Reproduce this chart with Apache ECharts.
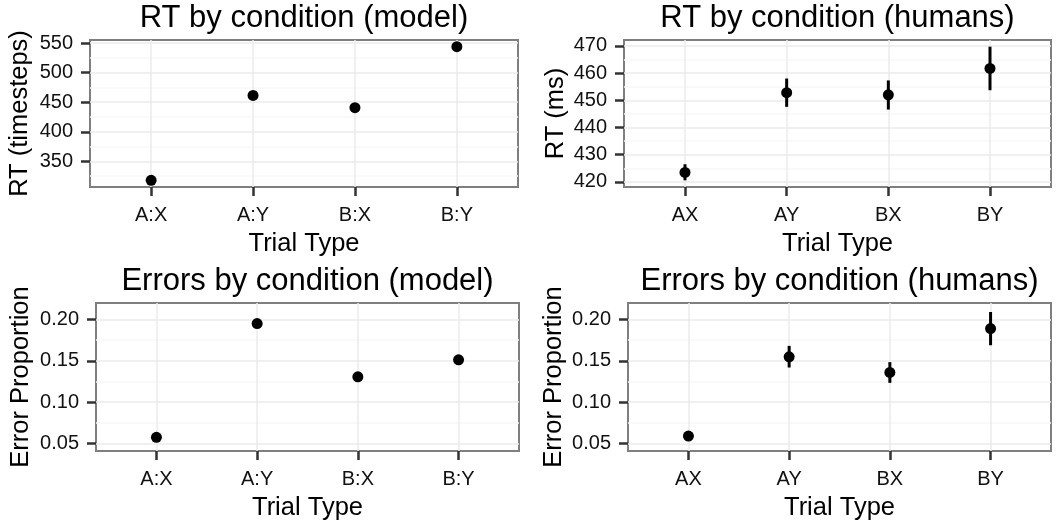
<!DOCTYPE html>
<html>
<head>
<meta charset="utf-8">
<script src="https://cdn.jsdelivr.net/npm/echarts@6/dist/echarts.min.js"></script>
<style>
  html, body { margin: 0; padding: 0; background: #fff; }
  #chart { width: 1060px; height: 523px; }
</style>
</head>
<body>
<div id="chart"></div>
<script>
// categories
var modelCats = ['A:X', 'A:Y', 'B:X', 'B:Y'];
var humanCats = ['AX', 'AY', 'BX', 'BY'];
var catPos = [1, 2, 3, 4];

// RT values
var modelRT = [318, 461.5, 440.7, 543.8];
var humanRT = [423.5, 452.8, 452.0, 461.7];
var humanRTLow = [420.6, 447.6, 446.6, 453.7];
var humanRTHigh = [426.5, 458.0, 457.3, 469.7];

// error proportions
var modelErr = [0.0573, 0.1952, 0.1306, 0.1512];
var humanErr = [0.0588, 0.1548, 0.1360, 0.1891];
var humanErrLow = [0.0560, 0.1419, 0.1233, 0.1689];
var humanErrHigh = [0.0616, 0.1681, 0.1484, 0.2092];

// tick labels / grid breaks
var modelRTTicks = [350, 400, 450, 500, 550];
var modelRTMinor = [325, 375, 425, 475, 525];
var humanRTTicks = [420, 430, 440, 450, 460, 470];
var humanRTMinor = [425, 435, 445, 455, 465];
var errTicks = [0.05, 0.10, 0.15, 0.20];
var errMinor = [0.075, 0.125, 0.175];

var FONT = 'Liberation Sans';
var myChart = echarts.init(document.getElementById('chart'));

var grids = [
    {left: 90, top: 40, width: 428, height: 147},
    {left: 624, top: 40, width: 427, height: 147},
    {left: 96, top: 303, width: 423, height: 148},
    {left: 628, top: 303, width: 423, height: 148}
];
var titles = [
    'RT by condition (model)', 'RT by condition (humans)',
    'Errors by condition (model)', 'Errors by condition (humans)'
];
var yNames = ['RT (timesteps)', 'RT (ms)', 'Error Proportion', 'Error Proportion'];
var yRange = [[306.7, 555.1], [418.15, 472.15], [0.0407, 0.2201], [0.0407, 0.2201]];
var yTicks = [modelRTTicks, humanRTTicks, errTicks, errTicks];
var yMinor = [modelRTMinor, humanRTMinor, errMinor, errMinor];
var yGap = [57, 55, 62, 61];
var cats = [modelCats, humanCats, modelCats, humanCats];

var option = {
    animation: false,
    grid: [], title: [], xAxis: [], yAxis: [], series: []
};

for (var g = 0; g < 4; g++) {
    (function (g) {
        var gr = grids[g];
        option.grid.push({
            left: gr.left, top: gr.top, width: gr.width, height: gr.height,
            show: true, borderColor: '#7f7f7f', borderWidth: 2, backgroundColor: '#fff'
        });
        option.title.push({
            text: titles[g],
            left: gr.left + gr.width / 2,
            textAlign: 'center',
            top: gr.top - 37,
            padding: 0,
            textStyle: {fontFamily: FONT, fontSize: 31, fontWeight: 'normal', color: '#000'}
        });
        option.xAxis.push({
            gridIndex: g, type: 'value', min: 0.4, max: 4.6,
            name: 'Trial Type', nameLocation: 'middle', nameGap: 44, nameMoveOverlap: false,
            nameTextStyle: {fontFamily: FONT, fontSize: 25.5, color: '#000'},
            axisLine: {show: false},
            axisTick: {show: true, length: 9, customValues: catPos,
                lineStyle: {color: '#333', width: 2.5}},
            axisLabel: {customValues: catPos, margin: 18, fontFamily: FONT, fontSize: 20, color: '#111',
                formatter: function (v) { return cats[g][Math.round(v) - 1]; }},
            splitLine: {show: true, lineStyle: {color: '#ebebeb', width: 1.5}}
        });
        var fmt = g >= 2 ? function (v) { return v.toFixed(2); } : function (v) { return String(v); };
        option.yAxis.push({
            gridIndex: g, type: 'value', position: 'left', min: yRange[g][0], max: yRange[g][1],
            name: yNames[g], nameLocation: 'middle', nameGap: yGap[g], nameRotate: 90, nameMoveOverlap: false,
            nameTextStyle: {fontFamily: FONT, fontSize: 25.5, color: '#000'},
            axisLine: {show: false},
            axisTick: {show: true, length: 9, customValues: yTicks[g],
                lineStyle: {color: '#333', width: 2.5}},
            axisLabel: {customValues: yTicks[g], margin: 17, fontFamily: FONT, fontSize: 20, color: '#111',
                formatter: fmt},
            splitLine: {show: true, lineStyle: {color: '#ebebeb', width: 1.5}}
        });
        // minor grid lines
        option.yAxis.push({
            gridIndex: g, type: 'value', position: 'left', min: yRange[g][0], max: yRange[g][1],
            axisLine: {show: false},
            axisTick: {show: false, customValues: yMinor[g]},
            axisLabel: {show: false},
            splitLine: {show: true, lineStyle: {color: '#f7f7f7', width: 1.5}}
        });
    })(g);
}

var points = [modelRT, humanRT, modelErr, humanErr];
for (var i = 0; i < 4; i++) {
    option.series.push({
        type: 'scatter', xAxisIndex: i, yAxisIndex: i * 2, z: 4,
        symbolSize: 11, itemStyle: {color: '#000', opacity: 1},
        data: points[i].map(function (v, k) { return [catPos[k], v]; })
    });
}

function errBars(idx, lo, hi) {
    return {
        type: 'custom', xAxisIndex: idx, yAxisIndex: idx * 2, z: 3,
        encode: {x: 0, y: [1, 2]},
        data: lo.map(function (v, k) { return [catPos[k], v, hi[k]]; }),
        renderItem: function (params, api) {
            var a = api.coord([api.value(0), api.value(1)]);
            var b = api.coord([api.value(0), api.value(2)]);
            return {type: 'line', shape: {x1: a[0], y1: a[1], x2: b[0], y2: b[1]},
                style: {stroke: '#000', lineWidth: 3}};
        }
    };
}
option.series.push(errBars(1, humanRTLow, humanRTHigh));
option.series.push(errBars(3, humanErrLow, humanErrHigh));

myChart.setOption(option);
window.addEventListener('resize', function () {
    myChart.resize();
});
</script>
</body>
</html>
